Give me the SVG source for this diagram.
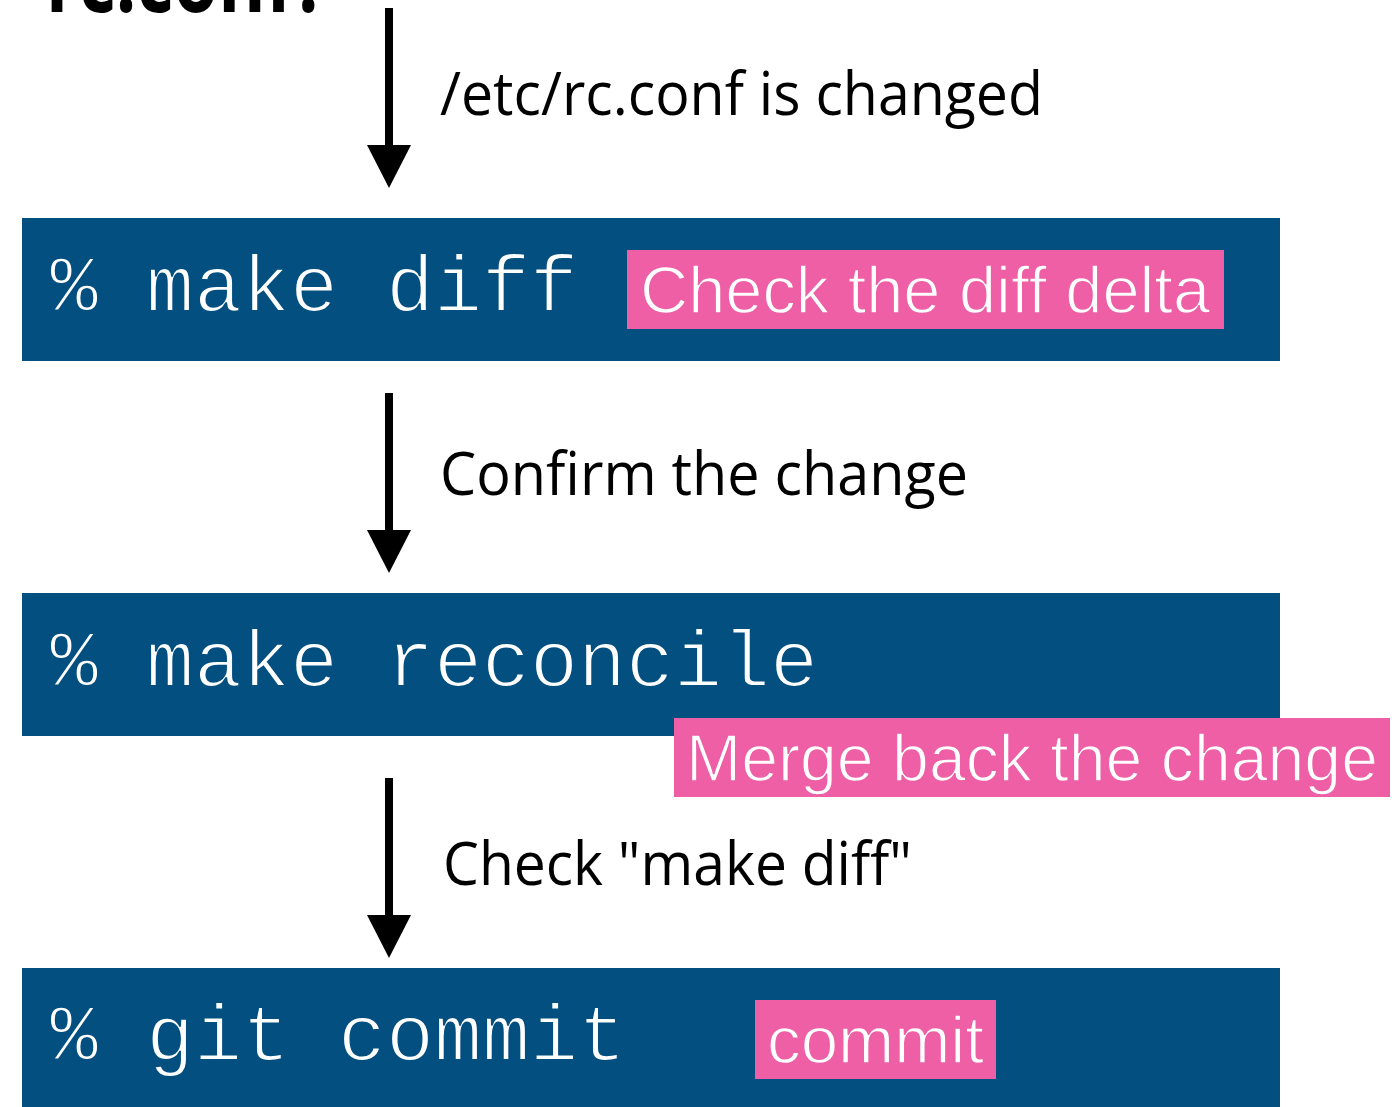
<svg xmlns="http://www.w3.org/2000/svg" width="1394" height="1107" viewBox="0 0 1394 1107">
<defs>
<style>
.box{fill:#024f80}
.tag{fill:#ee5fa6}
.cmd{font-family:"Liberation Mono","Courier New",monospace;font-size:80px;fill:#ffffff;stroke:#024f80;stroke-width:2px}
.tagtxt{font-family:"Liberation Sans",Arial,sans-serif;font-size:66px;fill:#ffffff;stroke:#ee5fa6;stroke-width:1.5px}
.lbl{font-family:"Open Sans","Noto Sans",sans-serif;font-size:60px;fill:#000000}
.title{font-family:"Open Sans","Noto Sans",sans-serif;font-weight:bold;font-size:92px;fill:#000000}
.shaft{stroke:#000000;stroke-width:8;fill:none}
.head{fill:#000000}
</style>
</defs>
<rect width="1394" height="1107" fill="#ffffff"/>
<text class="title" x="46" y="12" textLength="282" lengthAdjust="spacingAndGlyphs">rc.conf?</text>

<g id="connectors">
<line class="shaft" x1="389" y1="8" x2="389" y2="148"/>
<polygon class="head" points="367,145 411,145 389,188"/>
<text class="lbl" x="440" y="115" textLength="603" lengthAdjust="spacingAndGlyphs">/etc/rc.conf is changed</text>
<line class="shaft" x1="389" y1="393" x2="389" y2="533"/>
<polygon class="head" points="367,530 411,530 389,573"/>
<text class="lbl" x="440" y="495" textLength="528" lengthAdjust="spacingAndGlyphs">Confirm the change</text>
<line class="shaft" x1="389" y1="778" x2="389" y2="918"/>
<polygon class="head" points="367,915 411,915 389,958"/>
<text class="lbl" x="443" y="885" textLength="469" lengthAdjust="spacingAndGlyphs">Check "make diff"</text>
</g>

<g id="node-make-diff">
<rect class="box" x="22" y="218" width="1258" height="143"/>
<text class="cmd" x="50" y="311">% make diff</text>
<rect class="tag" x="627" y="250" width="597" height="79"/>
<text class="tagtxt" x="640" y="313" textLength="570" lengthAdjust="spacingAndGlyphs">Check the diff delta</text>
</g>

<g id="node-make-reconcile">
<rect class="box" x="22" y="593" width="1258" height="143"/>
<text class="cmd" x="50" y="686">% make reconcile</text>
<rect class="tag" x="674" y="718" width="716" height="79"/>
<text class="tagtxt" x="686" y="781" textLength="692" lengthAdjust="spacingAndGlyphs">Merge back the change</text>
</g>

<g id="node-git-commit">
<rect class="box" x="22" y="968" width="1258" height="139"/>
<text class="cmd" x="50" y="1060">% git commit</text>
<rect class="tag" x="755" y="1000" width="241" height="79"/>
<text class="tagtxt" x="767" y="1063" textLength="217" lengthAdjust="spacingAndGlyphs">commit</text>
</g>
</svg>
